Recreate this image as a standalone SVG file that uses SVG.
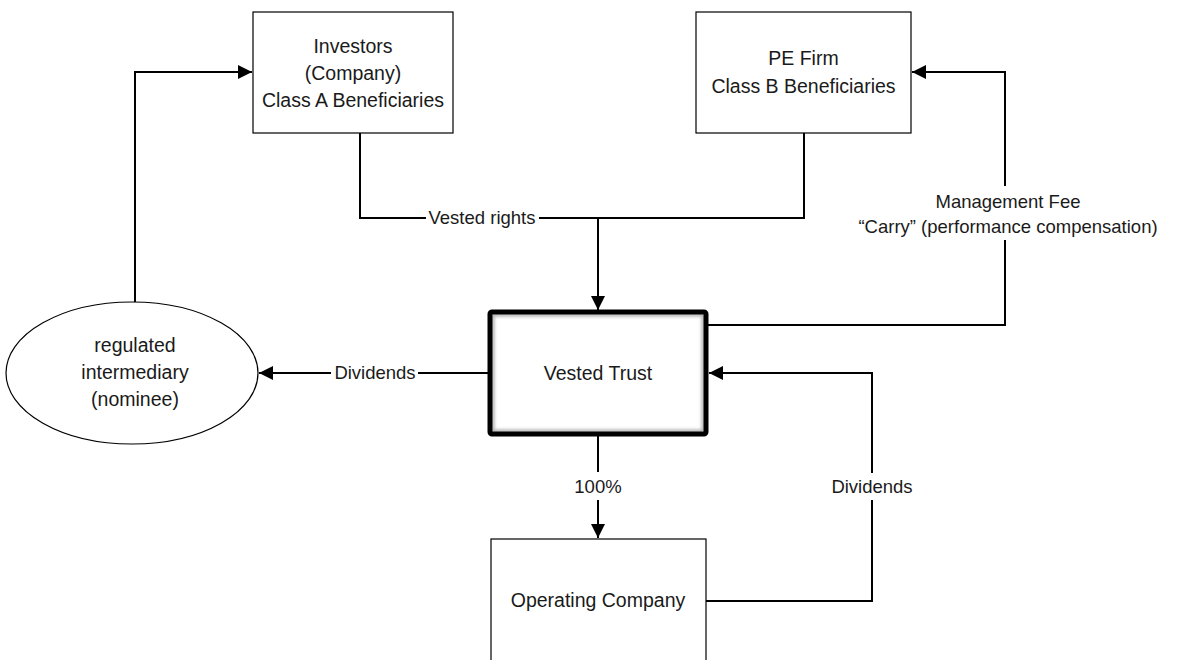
<svg xmlns="http://www.w3.org/2000/svg" width="1181" height="660" viewBox="0 0 1181 660">
<style>
.box{fill:#fff;stroke:#000;stroke-width:1.2}
.t{font-family:"Liberation Sans",Arial,sans-serif;font-size:19.5px;fill:#1a1a1a;text-anchor:middle}
.l{font-family:"Liberation Sans",Arial,sans-serif;font-size:18.5px;fill:#1a1a1a;text-anchor:middle}
.c{fill:none;stroke:#000;stroke-width:2}
</style>
<defs>
<marker id="ah" markerUnits="userSpaceOnUse" markerWidth="14" markerHeight="14" viewBox="0 0 14 14" refX="14" refY="7" orient="auto">
<path d="M0,0 L14,7 L0,14 Z" fill="#000"/>
</marker>
<filter id="blur" x="-10%" y="-10%" width="120%" height="120%"><feGaussianBlur stdDeviation="1.6"/></filter>
</defs>
<rect width="1181" height="660" fill="#fff"/>
<g id="connectors">
<path class="c" d="M360,133 V218 H426"/>
<path class="c" d="M539,218 H804 V133"/>
<path class="c" d="M598,218 V310" marker-end="url(#ah)"/>
<path class="c" d="M708,325 H1005 V240"/>
<path class="c" d="M1005,186 V72 H912" marker-end="url(#ah)"/>
<path class="c" d="M488,373 H418"/>
<path class="c" d="M331,373 H259" marker-end="url(#ah)"/>
<path class="c" d="M135,302 V72 H252" marker-end="url(#ah)"/>
<path class="c" d="M598,436 V472"/>
<path class="c" d="M598,500 V538" marker-end="url(#ah)"/>
<path class="c" d="M706,601 H872 V500"/>
<path class="c" d="M872,473 V373 H709" marker-end="url(#ah)"/>
<text class="l" x="482" y="224">Vested rights</text>
<text class="l" x="1008" y="208">Management Fee</text>
<text class="l" x="1008" y="233">“Carry” (performance compensation)</text>
<text class="l" x="375" y="379">Dividends</text>
<text class="l" x="598" y="493">100%</text>
<text class="l" x="872" y="493">Dividends</text>
</g>
<g id="investors">
<rect class="box" x="253" y="12" width="200" height="121"/>
<text class="t" x="353" y="53">Investors</text>
<text class="t" x="353" y="80">(Company)</text>
<text class="t" x="353" y="107">Class A Beneficiaries</text>
</g>
<g id="pefirm">
<rect class="box" x="696" y="12" width="215" height="121"/>
<text class="t" x="803.5" y="65">PE Firm</text>
<text class="t" x="803.5" y="93">Class B Beneficiaries</text>
</g>
<g id="vestedtrust">
<rect x="490" y="312" width="216" height="122" fill="#fff"/>
<rect x="493" y="315" width="210" height="116" fill="none" stroke="#aaa" stroke-width="3" filter="url(#blur)"/>
<rect x="490" y="312" width="216" height="122" fill="none" stroke="#000" stroke-width="5" rx="2"/>
<text class="t" x="598" y="380">Vested Trust</text>
</g>
<g id="intermediary">
<ellipse cx="132" cy="373" rx="126" ry="71" fill="#fff" stroke="#000" stroke-width="1.2"/>
<text class="t" x="135" y="352">regulated</text>
<text class="t" x="135" y="379">intermediary</text>
<text class="t" x="135" y="406">(nominee)</text>
</g>
<g id="opco">
<rect class="box" x="491" y="539" width="215" height="130"/>
<text class="t" x="598" y="607">Operating Company</text>
</g>
</svg>
